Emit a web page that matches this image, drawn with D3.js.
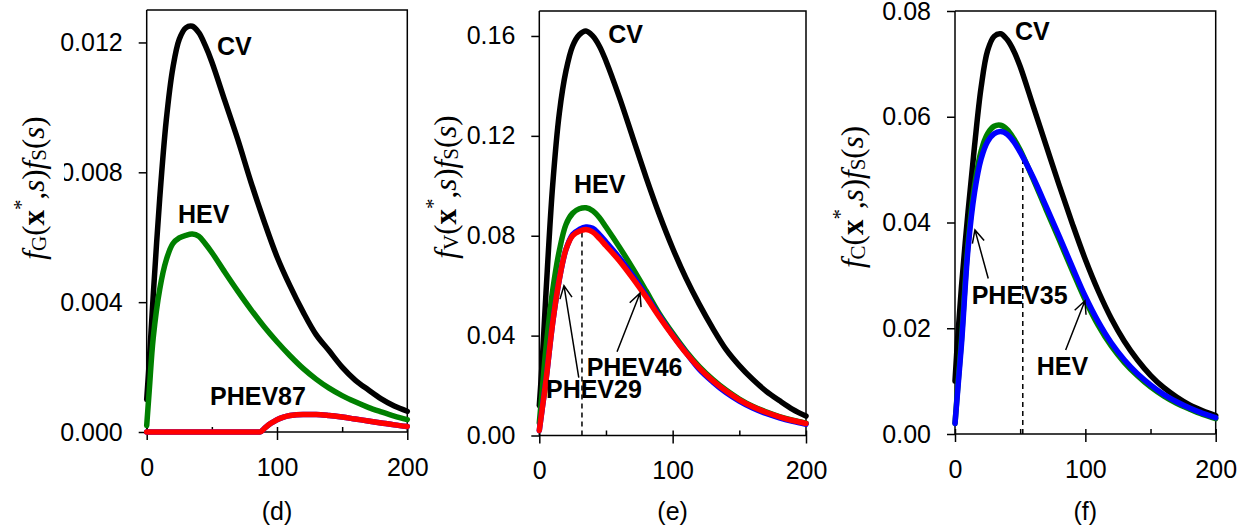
<!DOCTYPE html>
<html>
<head>
<meta charset="utf-8">
<script src="https://cdn.jsdelivr.net/npm/d3@7"></script>
<style>
  html, body { margin: 0; padding: 0; background: #fff; }
  svg { display: block; }
</style>
</head>
<body>
<svg id="chart" width="1253" height="530"></svg>
<script>
// ---------------- DATA ----------------
const sGrid = [0, 2, 5, 10, 15, 20, 25, 30, 35, 40, 45, 50, 60, 70, 80, 90, 100, 110, 120, 130, 140, 150, 160, 170, 180, 190, 200];
const xTicks = [0, 100, 200];
const xMinorTicks = [50, 150];

// (d) f_G
const dTicks = [0, 0.004, 0.008, 0.012];
const dCV  = [0.0010, 0.0022, 0.0042, 0.0072, 0.0096, 0.0112, 0.0121, 0.01245, 0.0125, 0.0123, 0.0119, 0.0114, 0.0102, 0.0090, 0.0077, 0.0065, 0.0054, 0.0045, 0.0037, 0.0030, 0.0025, 0.0020, 0.0016, 0.0013, 0.00102, 0.0008, 0.00064];
const dHEV = [0.0002, 0.0013, 0.0029, 0.0044, 0.0053, 0.0058, 0.00598, 0.00606, 0.0061, 0.00603, 0.0058, 0.00553, 0.00492, 0.00433, 0.00377, 0.00325, 0.00278, 0.00235, 0.00196, 0.00163, 0.00135, 0.00112, 0.00093, 0.00076, 0.00062, 0.00049, 0.00038];
const dPhevS  = [0, 87, 90, 95, 100, 105, 110, 120, 130, 140, 150, 160, 170, 180, 190, 200];
const dPHEV87 = [0, 0, 0.0001, 0.00026, 0.00038, 0.00046, 0.00051, 0.00054, 0.00054, 0.00051, 0.00046, 0.0004, 0.00034, 0.00028, 0.00022, 0.00017];

// (e) f_V
const eTicks = [0, 0.04, 0.08, 0.12, 0.16];
const eCV     = [0.012, 0.028, 0.057, 0.100, 0.129, 0.146, 0.156, 0.1605, 0.162, 0.160, 0.156, 0.150, 0.1355, 0.1195, 0.1035, 0.0885, 0.075, 0.063, 0.0525, 0.043, 0.0345, 0.028, 0.0225, 0.0178, 0.014, 0.0105, 0.0078];
const eHEV    = [0.005, 0.017, 0.035, 0.058, 0.074, 0.0845, 0.089, 0.0908, 0.0912, 0.090, 0.0873, 0.0835, 0.0755, 0.067, 0.058, 0.0488, 0.041, 0.0338, 0.0276, 0.0225, 0.0182, 0.0146, 0.0117, 0.0095, 0.0076, 0.0061, 0.0049];
const ePHEV46 = [0.002, 0.010, 0.022, 0.045, 0.0625, 0.0745, 0.0805, 0.0825, 0.0835, 0.083, 0.0805, 0.0775, 0.0712, 0.064, 0.0562, 0.048, 0.0402, 0.0332, 0.0265, 0.0215, 0.0172, 0.0138, 0.011, 0.0088, 0.0071, 0.0057, 0.0045];
const ePHEV29 = [0.002, 0.010, 0.022, 0.045, 0.0625, 0.0745, 0.080, 0.0818, 0.0825, 0.0815, 0.079, 0.076, 0.070, 0.063, 0.0555, 0.0475, 0.040, 0.033, 0.027, 0.022, 0.0178, 0.0143, 0.0115, 0.0093, 0.0075, 0.006, 0.0048];
const eDashS = 32, eDashV = 0.082;

// (f) f_C
const fTicks = [0, 0.02, 0.04, 0.06, 0.08];
const fCV     = [0.010, 0.018, 0.028, 0.042, 0.0545, 0.0655, 0.0725, 0.0752, 0.0757, 0.0746, 0.0725, 0.0695, 0.062, 0.0545, 0.047, 0.0398, 0.033, 0.027, 0.0218, 0.0175, 0.014, 0.0111, 0.0088, 0.007, 0.0055, 0.0044, 0.0035];
const fHEV    = [0.002, 0.0085, 0.018, 0.036, 0.047, 0.0535, 0.0568, 0.0582, 0.0584, 0.0576, 0.0559, 0.0537, 0.0482, 0.0424, 0.0367, 0.0309, 0.0253, 0.0205, 0.0166, 0.0135, 0.011, 0.0089, 0.0072, 0.0058, 0.0047, 0.0037, 0.0029];
const fPHEV35 = [0.002, 0.008, 0.017, 0.035, 0.0457, 0.052, 0.0553, 0.0568, 0.0572, 0.0567, 0.0553, 0.0533, 0.0485, 0.043, 0.0374, 0.0316, 0.026, 0.0212, 0.0172, 0.014, 0.0114, 0.0093, 0.0075, 0.0061, 0.0049, 0.0039, 0.0031];
const fDashS = 52, fDashV = 0.0522;

// ---------------- LAYOUT ----------------
const BLACK = "#000000", GREEN = "#008000", RED = "#ff0000", BLUE = "#0000ff";
const smooth = d3.curveCatmullRom.alpha(0.5);
const mono = d3.curveMonotoneX;

const panels = [
  {
    left: 146.7, right: 407.3, top: 10, bottom: 432, ymax: 0.013, yTicks: dTicks, fmt: ".3f",
    sub: "G", letter: "(d)", ylab: [33, 188], mask: true,
    series: [
      {s: sGrid, v: dCV, c: BLACK, k: smooth},
      {s: sGrid, v: dHEV, c: GREEN, k: smooth},
      {s: dPhevS, v: dPHEV87, c: BLUE, k: mono},
      {s: dPhevS, v: dPHEV87, c: RED, k: mono}
    ],
    labels: [
      {t: "CV", s: 53.9, v: 0.01161},
      {t: "HEV", s: 24, v: 0.00644},
      {t: "PHEV87", s: 48.6, v: 0.00083}
    ],
    arrows: [], dash: null
  },
  {
    left: 539.3, right: 806, top: 11, bottom: 435.5, ymax: 0.17, yTicks: eTicks, fmt: ".2f",
    sub: "V", letter: "(e)", ylab: [445, 187], mask: false,
    series: [
      {s: sGrid, v: eCV, c: BLACK, k: smooth},
      {s: sGrid, v: eHEV, c: GREEN, k: smooth},
      {s: sGrid, v: ePHEV46, c: BLUE, k: smooth},
      {s: sGrid, v: ePHEV29, c: RED, k: smooth}
    ],
    labels: [
      {t: "CV", s: 51.7, v: 0.1572},
      {t: "HEV", s: 26, v: 0.0972},
      {t: "PHEV46", s: 35.5, v: 0.024},
      {t: "PHEV29", s: 5, v: 0.015}
    ],
    arrows: [
      {tip: [18.5, 0.0600], tail: [29.6, 0.0232]},
      {tip: [75.5, 0.0570], tail: [58.3, 0.0335]}
    ],
    dash: [eDashS, eDashV]
  },
  {
    left: 955, right: 1215.7, top: 11, bottom: 434, ymax: 0.08, yTicks: fTicks, fmt: ".2f",
    sub: "C", letter: "(f)", ylab: [852, 197], mask: false,
    series: [
      {s: sGrid, v: fCV, c: BLACK, k: smooth},
      {s: sGrid, v: fHEV, c: GREEN, k: smooth},
      {s: sGrid, v: fPHEV35, c: BLUE, k: smooth}
    ],
    labels: [
      {t: "CV", s: 46, v: 0.0745},
      {t: "PHEV35", s: 12.8, v: 0.0246},
      {t: "HEV", s: 62.7, v: 0.0112}
    ],
    arrows: [
      {tip: [15.3, 0.0386], tail: [25.5, 0.0294]},
      {tip: [99.7, 0.0252], tail: [84.9, 0.0159]}
    ],
    dash: [fDashS, fDashV]
  }
];

const svg = d3.select("#chart");
const SANS = "'Liberation Sans', Arial, sans-serif";
const SERIF = "'Liberation Serif', 'Times New Roman', serif";

panels.forEach(p => {
  const x = d3.scaleLinear().domain([0, 200]).range([p.left, p.right]);
  const y = d3.scaleLinear().domain([0, p.ymax]).range([p.bottom, p.top]);
  const g = svg.append("g");

  // frame (top + right)
  g.append("path")
    .attr("d", `M${p.left},${p.top}H${p.right}V${p.bottom}`)
    .attr("fill", "none").attr("stroke", "#000").attr("stroke-width", 1.5);

  // y axis
  const yAxis = g.append("g").attr("transform", `translate(${p.left},0)`)
    .call(d3.axisLeft(y).tickValues(p.yTicks).tickFormat(d3.format(p.fmt)).tickSize(8).tickPadding(16));
  yAxis.select(".domain").attr("stroke-width", 1.5).attr("d", `M0,${p.top}V${p.bottom}`);
  yAxis.selectAll(".tick line").attr("stroke-width", 1.5);
  yAxis.selectAll(".tick text").attr("font-family", SANS).attr("font-size", 25).attr("fill", "#000");

  // x axis
  const xAxis = g.append("g").attr("transform", `translate(0,${p.bottom})`)
    .call(d3.axisBottom(x).tickValues(xTicks).tickFormat(d3.format("d")).tickSize(8).tickPadding(18));
  xAxis.select(".domain").attr("stroke-width", 1.5).attr("d", `M${p.left},0H${p.right}`);
  xAxis.selectAll(".tick line").attr("stroke-width", 1.5).attr("y1", -5);
  xAxis.selectAll(".tick text").attr("font-family", SANS).attr("font-size", 25).attr("fill", "#000");
  // minor ticks inside
  g.append("g").attr("transform", `translate(0,${p.bottom})`)
    .call(d3.axisTop(x).tickValues(xMinorTicks).tickFormat("").tickSize(5))
    .call(a => a.select(".domain").remove())
    .selectAll(".tick line").attr("stroke-width", 1.5);

  // panel letter
  g.append("text").attr("x", x(100)).attr("y", 511)
    .attr("text-anchor", "middle").attr("dominant-baseline", "central")
    .attr("font-family", SANS).attr("font-size", 25).text(p.letter);

  // dashed line
  if (p.dash) {
    g.append("line")
      .attr("x1", x(p.dash[0])).attr("x2", x(p.dash[0]))
      .attr("y1", y(0)).attr("y2", y(p.dash[1]))
      .attr("stroke", "#000").attr("stroke-width", 1.5).attr("stroke-dasharray", "5,4");
  }

  // curves
  p.series.forEach(sr => {
    const line = d3.line().x(d => x(d[0])).y(d => y(d[1])).curve(sr.k);
    g.append("path")
      .datum(sr.s.map((s, i) => [s, sr.v[i]]))
      .attr("d", line)
      .attr("fill", "none").attr("stroke", sr.c).attr("stroke-width", 5.5)
      .attr("stroke-linejoin", "round").attr("stroke-linecap", "round");
  });

  // arrows
  p.arrows.forEach(a => {
    const tx = x(a.tip[0]), ty = y(a.tip[1]);
    const lx = x(a.tail[0]), ly = y(a.tail[1]);
    const ang = Math.atan2(ly - ty, lx - tx);
    const L = 14, w = 0.45;
    const w1 = [tx + L * Math.cos(ang + w), ty + L * Math.sin(ang + w)];
    const w2 = [tx + L * Math.cos(ang - w), ty + L * Math.sin(ang - w)];
    g.append("path")
      .attr("d", `M${lx},${ly}L${tx},${ty}M${w1[0]},${w1[1]}L${tx},${ty}L${w2[0]},${w2[1]}`)
      .attr("fill", "none").attr("stroke", "#000").attr("stroke-width", 1.5);
  });

  // labels
  p.labels.forEach(l => {
    g.append("text").attr("x", x(l.s)).attr("y", y(l.v))
      .attr("font-family", SANS).attr("font-weight", "bold").attr("font-size", 25)
      .attr("fill", "#000").text(l.t);
  });

  // y label
  if (p.mask) {
    g.append("rect").attr("x", 12).attr("y", 104).attr("width", 52).attr("height", 172).attr("fill", "#fff");
  }
  const t = g.append("text")
    .attr("transform", `translate(${p.ylab[0]},${p.ylab[1]}) rotate(-90)`)
    .attr("text-anchor", "middle").attr("dominant-baseline", "central")
    .attr("font-family", SERIF).attr("font-size", 31).attr("fill", "#000");
  t.append("tspan").attr("font-style", "italic").text("f");
  t.append("tspan").attr("font-size", 21).attr("dy", 6).text(p.sub);
  t.append("tspan").attr("dy", -6).text("(");
  t.append("tspan").attr("font-weight", "bold").text("x");
  t.append("tspan").attr("font-size", 21).attr("dy", -12).text("*");
  t.append("tspan").attr("dy", 12).text(",");
  t.append("tspan").attr("font-style", "italic").text("s");
  t.append("tspan").text(")");
  t.append("tspan").attr("font-style", "italic").text("f");
  t.append("tspan").attr("font-size", 21).attr("dy", 6).text("S");
  t.append("tspan").attr("dy", -6).text("(");
  t.append("tspan").attr("font-style", "italic").text("s");
  t.append("tspan").text(")");
});
</script>
</body>
</html>
